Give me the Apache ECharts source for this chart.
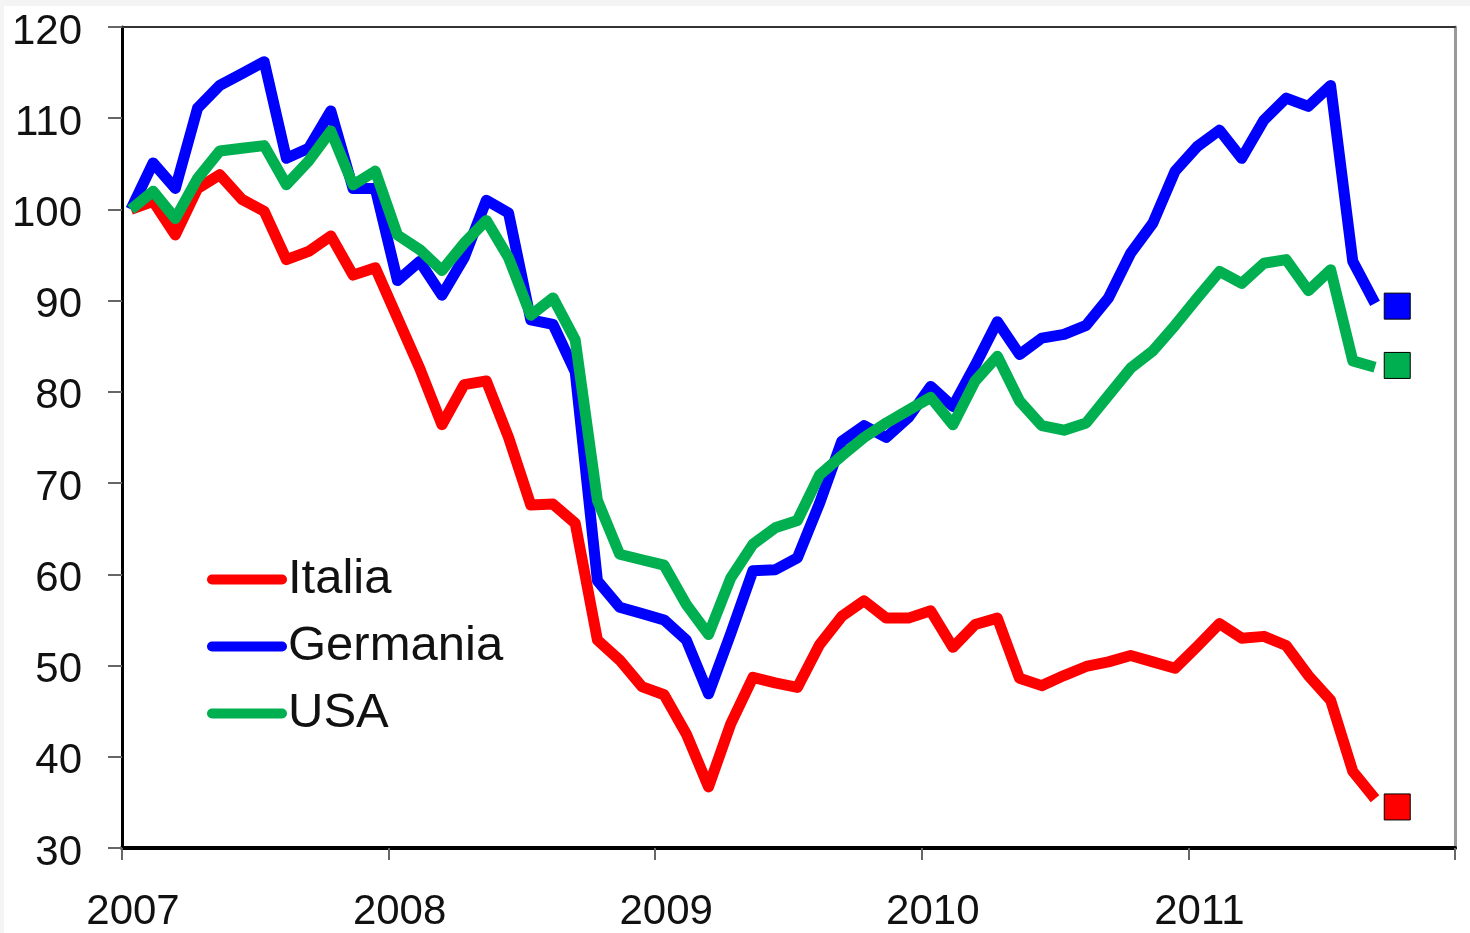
<!DOCTYPE html>
<html>
<head>
<meta charset="utf-8">
<title>Italia, Germania, USA</title>
<script src="https://cdn.jsdelivr.net/npm/echarts@6/dist/echarts.min.js"></script>
<style>
  html, body { margin: 0; padding: 0; background: #f4f4f4; }
  #frame { position: absolute; left: 4px; top: 6px; width: 1466px; height: 927px; background: #ffffff; }
  #chart { position: absolute; left: 0; top: 0; width: 1470px; height: 933px; }
</style>
</head>
<body>
<div id="frame"></div>
<div id="chart"></div>
<script>
// monthly index values, Jan 2007 = 100 (first point), one value per month
var yearLabels = ['2007', '2008', '2009', '2010', '2011'];
var seriesNames = ['Italia', 'Germania', 'USA'];
var seriesColors = ['#ff0000', '#0000ff', '#00b050'];

var italia = [
  100, 100.9, 97.2, 102.3, 103.8, 101.1, 99.8, 94.5, 95.4, 97.1, 92.8, 93.6,
  88.1, 82.6, 76.4, 80.8, 81.2, 75.0, 67.6, 67.7, 65.6, 52.8, 50.6, 47.7,
  46.8, 42.5, 36.7, 43.6, 48.7, 48.1, 47.6, 52.3, 55.4, 57.1, 55.2, 55.2,
  56.0, 52.0, 54.5, 55.2, 48.6, 47.8, 48.9, 49.9, 50.4, 51.1, 50.4, 49.7,
  52.1, 54.6, 53.0, 53.2, 52.2, 48.9, 46.2, 38.4, 35.4
];
var germania = [
  100, 105.1, 102.3, 111.1, 113.6, 114.9, 116.2, 105.6, 106.7, 110.8, 102.3, 102.3,
  92.2, 94.3, 90.6, 94.7, 101.0, 99.6, 87.9, 87.4, 82.2, 59.3, 56.4, 55.7,
  55.0, 52.8, 46.9, 53.5, 60.4, 60.5, 61.8, 67.8, 74.6, 76.3, 75.0, 77.2,
  80.6, 78.4, 82.9, 87.7, 84.1, 85.9, 86.3, 87.3, 90.3, 95.2, 98.5, 104.2,
  106.9, 108.7, 105.6, 109.8, 112.2, 111.3, 113.6, 94.3, 89.7
];
var usa = [
  100, 102.0, 99.0, 103.4, 106.4, 106.7, 107.0, 102.7, 105.3, 108.6, 102.7, 104.2,
  97.2, 95.6, 93.3, 96.3, 98.8, 94.7, 88.4, 90.3, 85.7, 68.1, 62.2, 61.6,
  61.0, 56.7, 53.4, 59.6, 63.3, 65.1, 65.9, 70.9, 73.0, 75.0, 76.6, 78.0,
  79.4, 76.4, 81.2, 83.9, 79.0, 76.3, 75.8, 76.6, 79.6, 82.6, 84.5, 87.3,
  90.3, 93.2, 91.9, 94.1, 94.5, 91.1, 93.4, 83.4, 82.7
];
// latest values, shown as squares one month after the lines end
var latestValues = [34.5, 89.4, 82.9];

var monthOffset = 0.4; // points sit a little after the start of each month

function toPoints(values) {
  return values.map(function (v, i) { return [i + monthOffset, v]; });
}

var chart = echarts.init(document.getElementById('chart'));
var fontFamily = '"Liberation Sans", Arial, sans-serif';
var allSeries = [italia, germania, usa];

var lineSeries = allSeries.map(function (values, k) {
  return {
    name: seriesNames[k],
    type: 'line',
    data: toPoints(values),
    showSymbol: false,
    symbol: 'none',
    color: seriesColors[k],
    lineStyle: { width: 11, color: seriesColors[k], join: 'round' },
    z: 2 + k
  };
});

var lastIndex = italia.length;
var markerSeries = {
  name: 'latest',
  type: 'scatter',
  symbol: 'rect',
  symbolSize: 26,
  data: latestValues.map(function (v, k) {
    return {
      value: [lastIndex + monthOffset, v],
      itemStyle: { color: seriesColors[k], opacity: 1, borderColor: '#000', borderWidth: 1 }
    };
  }),
  z: 6
};

var option = {
  animation: false,
  backgroundColor: 'transparent',
  textStyle: { fontFamily: fontFamily },
  grid: { left: 122, right: 15, top: 27, bottom: 83 },
  legend: {
    data: seriesNames,
    orient: 'vertical',
    left: 202,
    top: 550,
    itemWidth: 80,
    itemHeight: 11,
    itemGap: 18,
    selectedMode: false,
    icon: 'path://M5,0 L75,0 A5,5 0 0 1 75,10 L5,10 A5,5 0 0 1 5,0 Z',
    textStyle: { fontSize: 49, color: '#111', lineHeight: 48, fontFamily: fontFamily, padding: [0, 0, 0, -4] }
  },
  xAxis: [
    {
      type: 'value',
      min: 0,
      max: 60,
      interval: 12,
      axisLine: { show: true, onZero: false, lineStyle: { color: '#000', width: 4 } },
      axisTick: { show: true, inside: false, length: 12, lineStyle: { color: '#666', width: 2 } },
      splitLine: { show: false },
      axisLabel: {
        fontSize: 42,
        color: '#111',
        margin: 43,
        padding: [0, 0, 0, 22],
        formatter: function (v) {
          var idx = Math.round(v / 12);
          return idx < yearLabels.length ? yearLabels[idx] : '';
        }
      }
    },
    {
      type: 'value',
      position: 'top',
      min: 0,
      max: 60,
      axisLine: { show: true, onZero: false, lineStyle: { color: '#333', width: 2 } },
      axisTick: { show: false },
      axisLabel: { show: false },
      splitLine: { show: false }
    }
  ],
  yAxis: [
    {
      type: 'value',
      min: 30,
      max: 120,
      interval: 10,
      axisLine: { show: true, onZero: false, lineStyle: { color: '#000', width: 3 } },
      axisTick: { show: true, inside: false, length: 14, lineStyle: { color: '#666', width: 2 } },
      splitLine: { show: false },
      axisLabel: {
        margin: 40,
        formatter: function (v) { return '{t|' + v + '}'; },
        rich: { t: { fontSize: 42, color: '#111', fontFamily: fontFamily, padding: [10, 0, 0, 0] } }
      }
    },
    {
      type: 'value',
      position: 'right',
      min: 30,
      max: 120,
      axisLine: { show: true, onZero: false, lineStyle: { color: '#999', width: 3 } },
      axisTick: { show: false },
      axisLabel: { show: false },
      splitLine: { show: false }
    }
  ],
  series: lineSeries.concat([markerSeries])
};

chart.setOption(option);
</script>
</body>
</html>
